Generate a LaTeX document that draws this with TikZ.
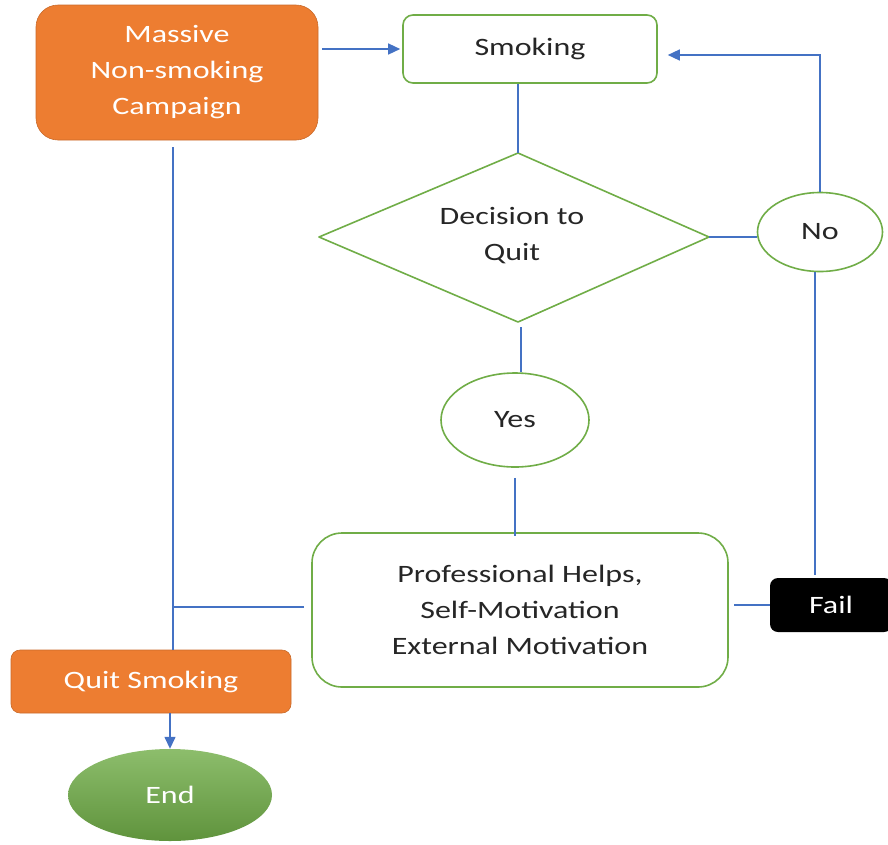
\documentclass[tikz,border=0pt]{standalone}
\usepackage{fontspec}
\setmainfont{Carlito}[FakeStretch=1.28]
\usetikzlibrary{shapes.geometric,arrows.meta,calc}
\definecolor{orng}{HTML}{ED7D31}
\definecolor{grn}{HTML}{70AD47}
\definecolor{blu}{HTML}{4472C4}
\definecolor{txt}{HTML}{262626}
\begin{document}
\begin{tikzpicture}[x=1pt,y=-1pt,
  every node/.style={inner sep=0pt,align=center,font=\fontsize{25}{36}\selectfont},
  orbox/.style={rectangle,rounded corners=#1,fill=orng,draw=orng!85!black,line width=0.6pt,text=white},
  gbox/.style={rectangle,rounded corners=#1,draw=grn,line width=1.6pt,fill=white,text=txt},
  gell/.style={ellipse,draw=grn,line width=1.6pt,fill=white,text=txt},
  conn/.style={draw=blu,line width=1.4pt},
  tip/.style={-{Triangle[length=12pt,width=11pt]}}
]
\useasboundingbox (0,0) rectangle (888,844);
% nodes
\node[orbox=22pt,minimum width=282pt,minimum height=135pt] (camp) at (177,72.5) {Massive\\Non-smoking\\Campaign};
\node[gbox=10pt,minimum width=254pt,minimum height=68pt] (smoke) at (530,49) {Smoking};
% diamond
\coordinate (dtop) at (518,153);
\coordinate (dright) at (709,237);
\coordinate (dbot) at (518,322);
\coordinate (dleft) at (319,237);
\draw[grn,line width=1.6pt,line join=round] (dtop) -- (dright) -- (dbot) -- (dleft) -- cycle;
\node[text=txt] (dtext) at (512,236) {Decision to\\Quit};
\node[gell,minimum width=125pt,minimum height=79pt] (no) at (820,232) {No};
\node[gell,minimum width=148pt,minimum height=94pt] (yes) at (515,420) {Yes};
\node[gbox=30pt,minimum width=416pt,minimum height=154pt] (prof) at (520,610) {Professional Helps,\\Self-Motivation\\External Motivation};
\node[rectangle,rounded corners=8pt,fill=black,text=white,minimum width=122pt,minimum height=54pt] (fail) at (831,605) {Fail};
\node[orbox=9pt,minimum width=280pt,minimum height=63pt] (quit) at (151,681.5) {Quit Smoking};
\node[ellipse,top color=grn!80!white,bottom color=grn!85!black,draw=none,text=white,minimum width=204pt,minimum height=92pt] (end) at (170,795) {End};
\coordinate (junc) at (173,607);
% connectors
\draw[conn,tip] ([xshift=4pt]camp.east |- smoke.west) -- ([xshift=-2pt]smoke.west);
\draw[conn] (dtop |- smoke.south) -- (dtop);
\draw[conn] (dright) -- (no.west |- dright);
\draw[conn,tip] (no.north) |- ([xshift=10pt,yshift=-6pt]smoke.east);
\draw[conn] ([xshift=-5pt]no.south) -- ([xshift=-5pt,yshift=3pt]no.south |- fail.north);
\draw[conn] (fail.west) -- ([xshift=5pt]prof.east |- fail.west);
\draw[conn] ([xshift=3pt,yshift=-5pt]dbot) -- ([xshift=3pt]dbot |- yes.north);
\draw[conn] ([yshift=-10pt]yes.south) -- ([yshift=-4pt]yes.south |- prof.north);
\draw[conn] ([yshift=-7pt]camp.south -| junc) -- (junc |- quit.north);
\draw[conn] ([xshift=-7pt]prof.west |- junc) -- (junc);
\draw[conn,tip] (end.north |- quit.south) -- (end.north);
\end{tikzpicture}
\end{document}
